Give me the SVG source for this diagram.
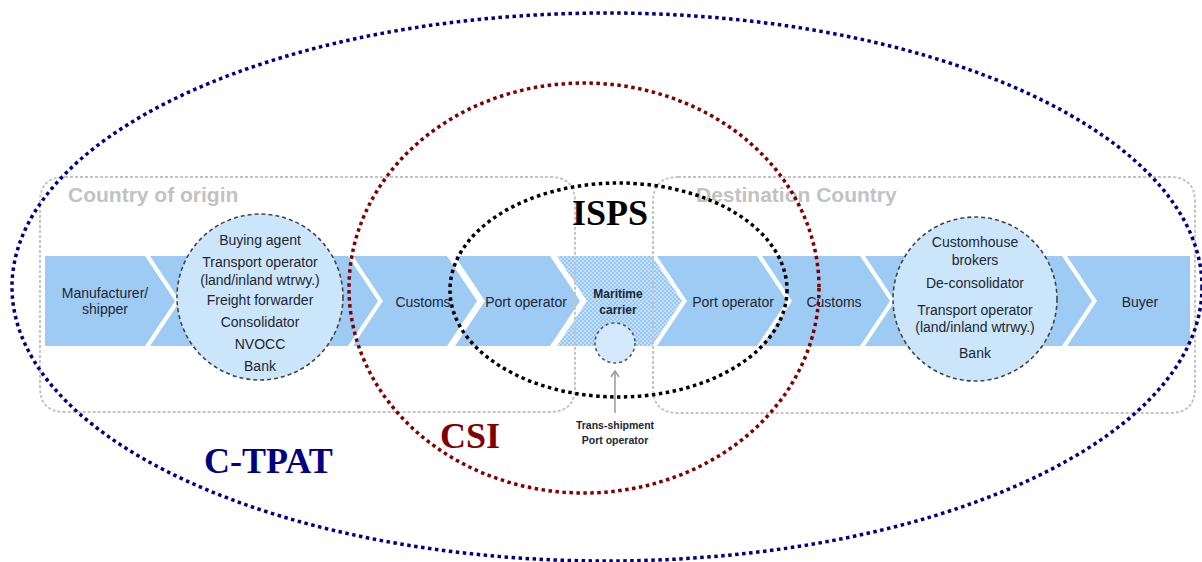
<svg xmlns="http://www.w3.org/2000/svg" width="1202" height="562" viewBox="0 0 1202 562">
<style>
.band{fill:#9dcbf4}
.box{fill:none;stroke:#c4c4c4;stroke-width:2;stroke-dasharray:3 2}
.circ{fill:#cbe5fa;stroke:#444;stroke-width:1.6;stroke-dasharray:4 3}
.t{font-family:"Liberation Sans",Arial,sans-serif;font-size:14px;fill:#1e2633;text-anchor:middle}
.tb{font-family:"Liberation Sans",Arial,sans-serif;font-weight:bold;fill:#1e2633;text-anchor:middle}
.hdr{font-family:"Liberation Sans",Arial,sans-serif;font-weight:bold;font-size:21px;fill:#c2c2c2}
.big{font-family:"Liberation Serif","Times New Roman",serif;font-weight:bold;font-size:36px}
.ell{fill:none;stroke-width:3.5;stroke-dasharray:3.5 3.5}
</style>
<defs>
<pattern id="hatch" width="4" height="4" patternUnits="userSpaceOnUse">
<rect width="4" height="4" fill="#c2dff9"/>
<rect width="2" height="2" fill="#98c8f3"/>
<rect x="2" y="2" width="2" height="2" fill="#98c8f3"/>
</pattern>
<marker id="arr" viewBox="0 0 10 10" refX="9" refY="5" markerWidth="10" markerHeight="10" orient="auto" markerUnits="userSpaceOnUse">
<path d="M3,1 L9,5 L3,9" fill="none" stroke="#999" stroke-width="1.5"/>
</marker>
</defs>
<rect width="1202" height="562" fill="#fff"/>

<g id="chain">
<g id="n-manufacturer"><polygon class="band" points="45,256 145,256 175,301 145,346 45,346"/>
<text class="t" x="105" y="298">Manufacturer/</text><text class="t" x="105" y="314">shipper</text></g>
<g id="n-origin-parties"><polygon class="band" points="150,256 348,256 378,301 348,346 150,346 180,301"/></g>
<g id="n-customs-origin"><polygon class="band" points="353,256 447,256 477,301 447,346 353,346 383,301"/>
<text class="t" x="423" y="307">Customs</text></g>
<g id="n-port-origin"><polygon class="band" points="455,256 550,256 580,301 550,346 455,346 485,301"/>
<text class="t" x="526" y="307">Port operator</text></g>
<g id="n-maritime"><polygon points="557,256 652,256 682,301 652,346 557,346 587,301" fill="url(#hatch)"/>
<text class="tb" font-size="12" x="618" y="298">Maritime</text><text class="tb" font-size="12" x="618" y="314">carrier</text></g>
<g id="n-port-dest"><polygon class="band" points="657,256 757,256 787,301 757,346 657,346 687,301"/>
<text class="t" x="733" y="307">Port operator</text></g>
<g id="n-customs-dest"><polygon class="band" points="762,256 860,256 890,301 860,346 762,346 792,301"/>
<text class="t" x="834" y="307">Customs</text></g>
<g id="n-dest-parties"><polygon class="band" points="865,256 1062,256 1092,301 1062,346 865,346 895,301"/></g>
<g id="n-buyer"><polygon class="band" points="1067,256 1190,256 1190,346 1067,346 1097,301"/>
<text class="t" x="1140" y="307">Buyer</text></g>
</g>

<g id="regions">
<path class="box" d="M65,177 H550 Q575,177 575,202 V387 Q575,412 550,412 H65 Q40,412 40,387 V202 Q40,177 65,177 Z"/>
<path class="box" d="M678,177 H1170 Q1195,177 1195,202 V388 Q1195,413 1170,413 H678 Q653,413 653,388 V202 Q653,177 678,177 Z"/>
<text id="origin-label" class="hdr" x="68" y="202">Country of origin</text>
<text id="dest-label" class="hdr" x="696" y="202">Destination Country</text>
</g>

<g id="origin-circle">
<circle class="circ" cx="260" cy="297" r="83"/>
<text class="t" x="260" y="245">Buying agent</text>
<text class="t" x="260" y="267">Transport operator</text>
<text class="t" x="260" y="285">(land/inland wtrwy.)</text>
<text class="t" x="260" y="305">Freight forwarder</text>
<text class="t" x="260" y="327">Consolidator</text>
<text class="t" x="260" y="349">NVOCC</text>
<text class="t" x="260" y="371">Bank</text>
</g>

<g id="dest-circle">
<circle class="circ" cx="975" cy="299" r="82"/>
<text class="t" x="975" y="247">Customhouse</text>
<text class="t" x="975" y="265">brokers</text>
<text class="t" x="975" y="288">De-consolidator</text>
<text class="t" x="975" y="315">Transport operator</text>
<text class="t" x="975" y="332">(land/inland wtrwy.)</text>
<text class="t" x="975" y="358">Bank</text>
</g>

<g id="transship">
<circle cx="615" cy="343" r="20" fill="#d3e9fb" stroke="#555" stroke-width="1.6" stroke-dasharray="3 3"/>
<text class="tb" font-size="10.5" x="615" y="429">Trans-shipment</text>
<text class="tb" font-size="10.5" x="615" y="444">Port operator</text>
</g>

<g id="connectors">
<line x1="615" y1="413" x2="615" y2="371" stroke="#999" stroke-width="1.5" marker-end="url(#arr)"/>
</g>

<g id="programs">
<ellipse class="ell" cx="607" cy="287" rx="595" ry="274" stroke="#000080"/>
<ellipse class="ell" cx="584" cy="288" rx="235" ry="205" stroke="#800000"/>
<ellipse class="ell" cx="618.5" cy="290" rx="168.5" ry="107" stroke="#000"/>
<text class="big" x="572" y="225" fill="#000">ISPS</text>
<text class="big" x="440" y="448" fill="#800000">CSI</text>
<text class="big" x="204" y="473" fill="#000080">C-TPAT</text>
</g>
</svg>
